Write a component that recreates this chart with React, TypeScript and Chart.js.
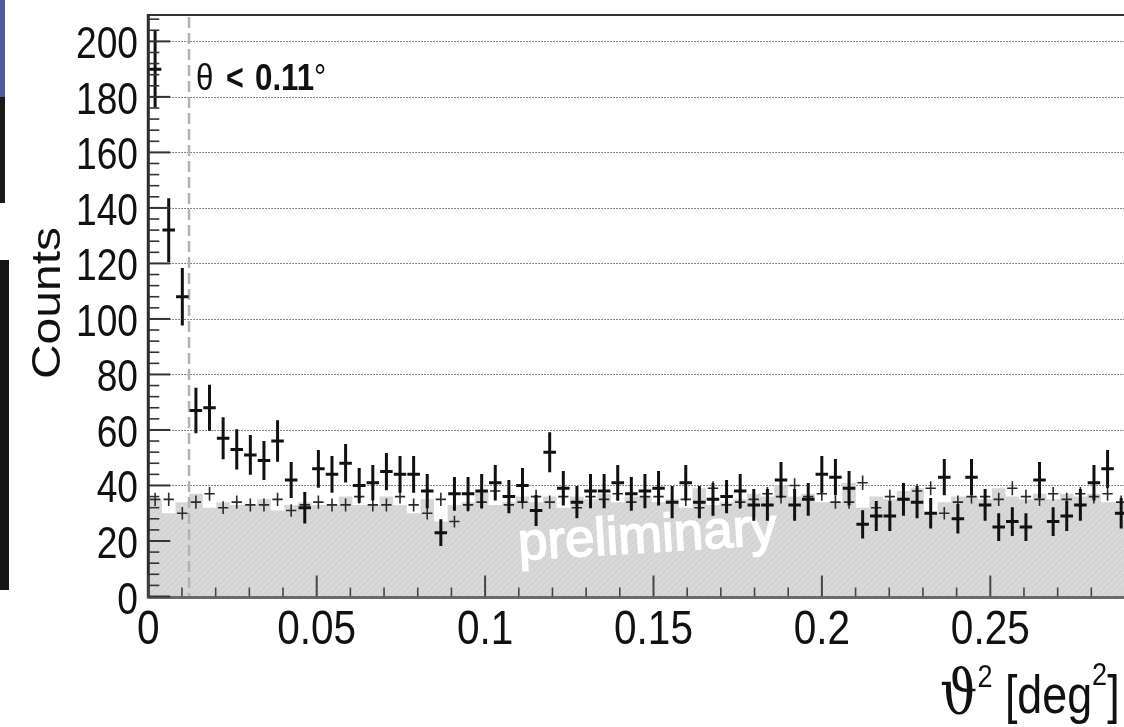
import React, { useEffect, useRef } from "react";
import { Chart, registerables } from "chart.js";

Chart.register(...registerables);

// ---------- data ----------
const binWidth = 0.00404; // deg^2 per bin
const onCounts = [
  190, 132, 108, 67, 68, 57, 53, 51, 49, 56,
  42, 32, 46, 44, 48, 40, 41, 45, 44, 44,
  38, 23, 37, 37, 38, 41, 36, 40, 31, 52,
  39, 34, 38, 38, 41, 37, 38, 39, 34, 41,
  34, 35, 36, 38, 33, 33, 42, 33, 35, 44,
  43, 39, 26, 29, 29, 35, 34, 30, 43, 28,
  43, 33, 25, 27, 25, 42, 27, 29, 33, 41,
  46, 30,
];
const offCounts = [
  35, 35, 30, 34, 37, 32, 34, 33, 33, 35,
  31, 33, 34, 33, 33, 36, 33, 33, 36, 33,
  30, 35, 27, 33, 34, 38, 33, 34, 36, 34,
  36, 32, 36, 35, 37, 34, 36, 36, 34, 35,
  32, 39, 33, 34, 35, 37, 36, 40, 36, 37,
  34, 34, 41, 32, 36, 35, 38, 39, 30, 34,
  36, 36, 35, 39, 36, 35, 37, 35, 37, 36,
  37, 34,
];
const offAlpha = 1 / 6; // normalisation of the OFF counts (for errors)
const yTickValues = [0, 20, 40, 60, 80, 100, 120, 140, 160, 180, 200];
const yTickLabels = ["0", "20", "40", "60", "80", "100", "120", "140", "160", "180", "200"];
const xTickValues = [0, 0.05, 0.1, 0.15, 0.2, 0.25];
const xTickLabels = ["0", "0.05", "0.1", "0.15", "0.2", "0.25"];
const thetaCut = 0.0121; // (0.11 deg)^2
const xMin = 0;
const xMax = 0.2897;
const yMin = 0;
const yMax = 209.5;

const FONT = '"Liberation Sans", Arial, Helvetica, sans-serif';
const HS = 0.845; // horizontal condensation of the reference text

function txt(
  ctx: CanvasRenderingContext2D,
  s: string,
  x: number,
  y: number,
  font: string,
  align: CanvasTextAlign = "left",
  hs: number = HS,
  color: string = "#111"
) {
  ctx.save();
  ctx.font = font;
  ctx.fillStyle = color;
  ctx.textAlign = align;
  ctx.textBaseline = "alphabetic";
  ctx.translate(x, y);
  ctx.scale(hs, 1);
  ctx.fillText(s, 0, 0);
  ctx.restore();
}

function makePattern(): CanvasPattern | string {
  const c = document.createElement("canvas");
  c.width = 6;
  c.height = 6;
  const g = c.getContext("2d");
  if (!g) return "#d6d6d6";
  g.fillStyle = "#d8d8d8";
  g.fillRect(0, 0, 6, 6);
  g.fillStyle = "#cdcdcd";
  for (let i = 0; i < 6; i++) g.fillRect(i, 5 - i, 1, 1);
  const p = g.createPattern(c, "repeat");
  return p || "#d6d6d6";
}

const rootPlugin = {
  id: "rootStyle",
  beforeDatasetsDraw(chart: any) {
    const { ctx, chartArea: a, scales } = chart;
    const ys = scales.y;
    ctx.save();
    ctx.strokeStyle = "#5e5e5e";
    ctx.lineWidth = 1;
    ctx.setLineDash([1.5, 1.5]);
    for (const v of yTickValues) {
      if (v === 0) continue;
      const y = Math.round(ys.getPixelForValue(v)) + 0.5;
      ctx.beginPath();
      ctx.moveTo(a.left, y);
      ctx.lineTo(a.right, y);
      ctx.stroke();
    }
    ctx.restore();
  },
  afterDatasetsDraw(chart: any) {
    const { ctx, chartArea: a, scales } = chart;
    const xs = scales.x;
    const ys = scales.y;

    // watermark
    ctx.save();
    ctx.beginPath();
    ctx.rect(a.left, a.top, a.right - a.left, a.bottom - a.top);
    ctx.clip();
    ctx.translate(519, 560);
    ctx.rotate((-3.5 * Math.PI) / 180);
    ctx.font = `53px ${FONT}`;
    ctx.fillStyle = "#ffffff";
    ctx.strokeStyle = "#ffffff";
    ctx.lineWidth = 1.6;
    ctx.textBaseline = "alphabetic";
    ctx.fillText("preliminary", 0, 0);
    ctx.strokeText("preliminary", 0, 0);
    ctx.restore();

    // cut line
    ctx.save();
    const xc = xs.getPixelForValue(thetaCut);
    ctx.strokeStyle = "#b3b3b3";
    ctx.lineWidth = 2.5;
    ctx.setLineDash([11, 5]);
    ctx.beginPath();
    ctx.moveTo(xc, a.top + 2);
    ctx.lineTo(xc, a.bottom);
    ctx.stroke();
    ctx.restore();

    // crosses
    const drawCrosses = (
      vals: number[],
      errFn: (v: number) => number,
      half: number,
      lw: number,
      color: string
    ) => {
      ctx.save();
      ctx.beginPath();
      ctx.rect(a.left, a.top, a.right - a.left + 10, a.bottom - a.top);
      ctx.clip();
      ctx.strokeStyle = color;
      ctx.lineWidth = lw;
      ctx.lineCap = "butt";
      vals.forEach((v, i) => {
        const c = (i + 0.5) * binWidth;
        const px = xs.getPixelForValue(c);
        const pl = xs.getPixelForValue(c - half * binWidth);
        const pr = xs.getPixelForValue(c + half * binWidth);
        const py = ys.getPixelForValue(v);
        const e = errFn(v);
        const pt = ys.getPixelForValue(v + e);
        const pb = ys.getPixelForValue(v - e);
        ctx.beginPath();
        ctx.moveTo(pl, py);
        ctx.lineTo(pr, py);
        ctx.moveTo(px, pt);
        ctx.lineTo(px, pb);
        ctx.stroke();
      });
      ctx.restore();
    };
    drawCrosses(offCounts, (v) => Math.sqrt(v * offAlpha), 0.38, 1.6, "#2a2a2a");
    drawCrosses(onCounts, (v) => Math.sqrt(v), 0.46, 3, "#111111");

    // frame
    ctx.save();
    ctx.strokeStyle = "#333";
    ctx.lineWidth = 2;
    ctx.beginPath();
    ctx.moveTo(a.left, a.top);
    ctx.lineTo(a.right, a.top);
    ctx.stroke();
    ctx.lineWidth = 3;
    ctx.strokeStyle = "#2c2c2c";
    ctx.beginPath();
    ctx.moveTo(a.left, a.top - 1);
    ctx.lineTo(a.left, a.bottom + 1.5);
    ctx.stroke();
    ctx.strokeStyle = "#6a6a6a";
    ctx.beginPath();
    ctx.moveTo(a.left - 1, a.bottom + 1);
    ctx.lineTo(a.right, a.bottom + 1);
    ctx.stroke();

    // y ticks (inside)
    ctx.strokeStyle = "#333";
    for (let v = 0; v <= yMax; v += 4) {
      const y = ys.getPixelForValue(v);
      const major = v % 20 === 0;
      ctx.lineWidth = major ? 2 : 1.6;
      ctx.beginPath();
      ctx.moveTo(a.left, y);
      ctx.lineTo(a.left + (major ? 22 : 11), y);
      ctx.stroke();
    }
    // x ticks (inside)
    ctx.strokeStyle = "#444";
    for (let k = 0; k <= 30; k++) {
      const v = k * 0.01;
      if (v > xMax) break;
      const x = xs.getPixelForValue(v);
      const major = k % 5 === 0;
      ctx.lineWidth = major ? 2 : 1.6;
      ctx.beginPath();
      ctx.moveTo(x, a.bottom);
      ctx.lineTo(x, a.bottom - (major ? 21 : 9));
      ctx.stroke();
    }
    ctx.restore();

    // tick labels
    yTickValues.forEach((v, i) => {
      const y = ys.getPixelForValue(v);
      txt(ctx, yTickLabels[i], 138, y + 17, `44px ${FONT}`, "right");
    });
    xTickValues.forEach((v, i) => {
      const x = xs.getPixelForValue(v);
      txt(ctx, xTickLabels[i], x, 644, `48px ${FONT}`, "center");
    });

    // y title
    ctx.save();
    ctx.translate(60, 303);
    ctx.scale(HS, 1);
    ctx.rotate(-Math.PI / 2);
    ctx.font = `48px ${FONT}`;
    ctx.fillStyle = "#111";
    ctx.textAlign = "center";
    ctx.textBaseline = "alphabetic";
    ctx.fillText("Counts", 0, 0);
    ctx.restore();

    // x title  ϑ² [deg²]
    let x = 940;
    const base = 713;
    const put = (s: string, font: string, dy = 0) => {
      ctx.save();
      ctx.font = font;
      const w = ctx.measureText(s).width * HS;
      ctx.restore();
      txt(ctx, s, x, base + dy, font, "left");
      x += w;
    };
    put("\u03D1", `62px "DejaVu Serif", serif`);
    put("2", `32px ${FONT}`, -26);
    put(" [deg", `53px ${FONT}`);
    put("2", `32px ${FONT}`, -28);
    put("]", `53px ${FONT}`);

    // annotation θ < 0.11°
    txt(ctx, "\u03B8", 196, 90, `37px ${FONT}`, "left");
    txt(ctx, "<", 226, 90, `bold 36px ${FONT}`, "left");
    txt(ctx, "0.11", 255, 90, `bold 37px ${FONT}`, "left");
    txt(ctx, "\u00B0", 314, 90, `36px ${FONT}`, "left");
  },
};

export default function App() {
  const ref = useRef<HTMLCanvasElement | null>(null);

  useEffect(() => {
    const canvas = ref.current;
    if (!canvas) return;
    const fillData = offCounts.map((v, i) => ({ x: i * binWidth, y: v }));
    fillData.push({ x: offCounts.length * binWidth, y: offCounts[offCounts.length - 1] });
    const onData = onCounts.map((v, i) => ({ x: (i + 0.5) * binWidth, y: v }));
    const offData = offCounts.map((v, i) => ({ x: (i + 0.5) * binWidth, y: v }));

    const chart = new Chart(canvas, {
      type: "scatter",
      data: {
        datasets: [
          {
            type: "line",
            label: "OFF (normalised)",
            data: fillData,
            stepped: "after",
            fill: "origin",
            backgroundColor: makePattern() as any,
            borderWidth: 0,
            borderColor: "rgba(0,0,0,0)",
            pointRadius: 0,
          } as any,
          {
            label: "ON",
            data: onData,
            pointRadius: 0,
            showLine: false,
          },
          {
            label: "OFF",
            data: offData,
            pointRadius: 0,
            showLine: false,
          },
        ],
      },
      options: {
        animation: false,
        responsive: false,
        maintainAspectRatio: false,
        devicePixelRatio: 1,
        layout: { padding: { left: 148.3, top: 15, right: 0, bottom: 130.5 } },
        plugins: {
          legend: { display: false },
          tooltip: { enabled: false },
          title: { display: false },
        },
        scales: {
          x: { type: "linear", min: xMin, max: xMax, display: false },
          y: { type: "linear", min: yMin, max: yMax, display: false },
        },
      },
      plugins: [rootPlugin as any],
    });
    return () => chart.destroy();
  }, []);

  return (
    <div
      style={{
        position: "fixed",
        left: 0,
        top: 0,
        width: 1124,
        height: 727,
        background: "#ffffff",
        overflow: "hidden",
      }}
    >
      <canvas ref={ref} width={1124} height={727} style={{ width: 1124, height: 727, display: "block" }} />
      <div style={{ position: "absolute", left: 0, top: 0, width: 5, height: 97, background: "#4d5b9c" }} />
      <div style={{ position: "absolute", left: 0, top: 97, width: 5, height: 106, background: "#1a1a1a" }} />
      <div style={{ position: "absolute", left: 0, top: 260, width: 9, height: 330, background: "#141414" }} />
    </div>
  );
}
